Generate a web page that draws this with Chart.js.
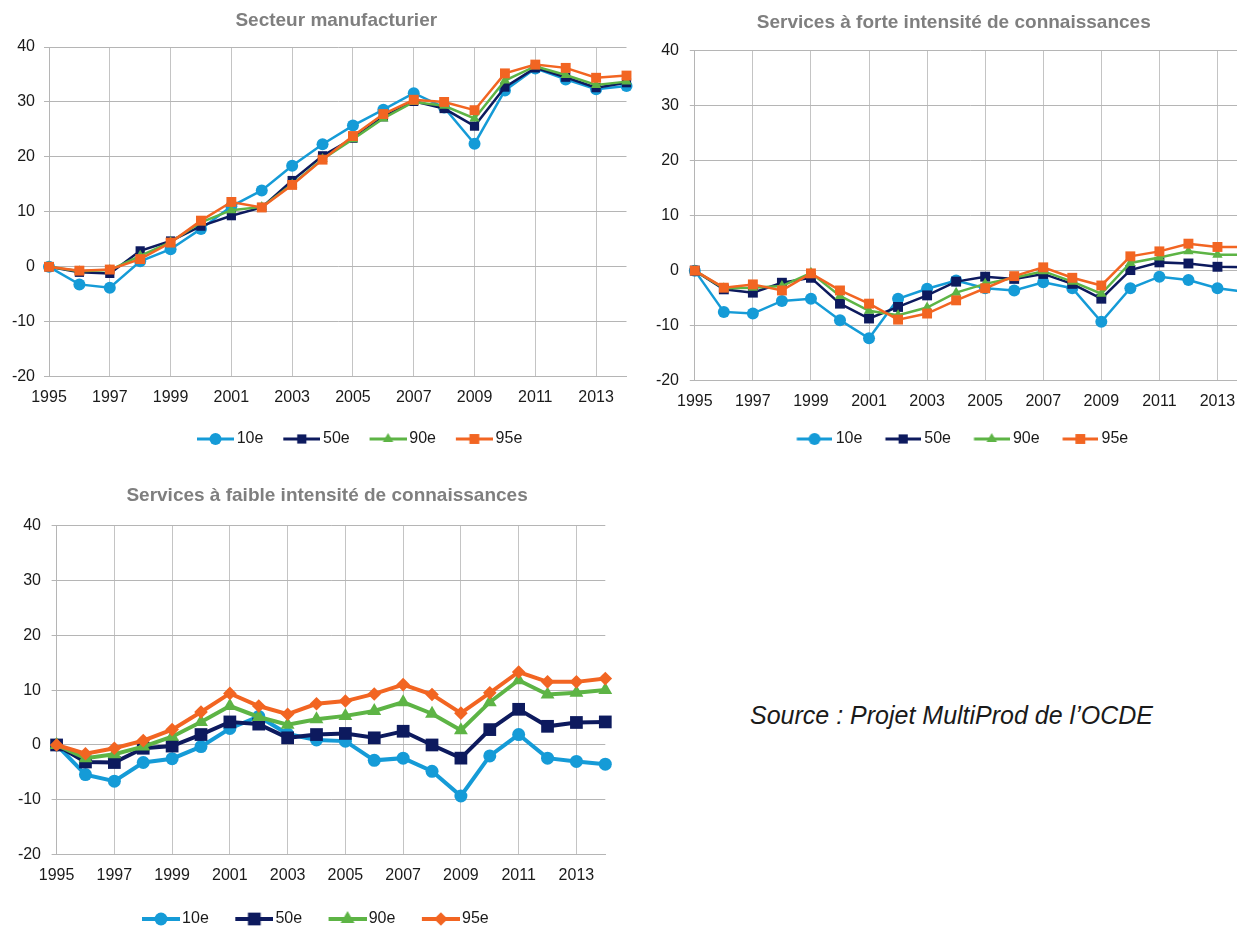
<!DOCTYPE html>
<html><head><meta charset="utf-8">
<script src="https://cdn.jsdelivr.net/npm/chart.js@4.4.1/dist/chart.umd.min.js"></script>
<style>
html,body{margin:0;padding:0;background:#fff;overflow:hidden;}
#wrap{position:relative;width:1237px;height:926px;overflow:hidden;background:#fff;}
canvas{position:absolute;}
#c1{left:0;top:0;}
#c2{left:645px;top:0;}
#c3{left:0;top:470px;}
#src{position:absolute;left:750px;top:700px;font:italic 25px "Liberation Sans",Arial,sans-serif;line-height:30px;color:#1a1a1a;white-space:nowrap;}
</style></head><body>
<div id="wrap">
<canvas id="c1" width="640" height="457"></canvas>
<canvas id="c2" width="620" height="457"></canvas>
<canvas id="c3" width="640" height="467"></canvas>
<div id="src">Source : Projet MultiProd de l’OCDE</div>
</div>
<script>
// ---- Data ----
const years = ['1995','1996','1997','1998','1999','2000','2001','2002','2003','2004','2005','2006','2007','2008','2009','2010','2011','2012','2013','2014'];
const seriesNames = ['10e','50e','90e','95e'];
const yTicks = [-20, -10, 0, 10, 20, 30, 40];

const titleManuf = 'Secteur manufacturier';
const manuf10 = [0, -3.2, -3.8, 1.0, 3.2, 6.9, 11.0, 13.9, 18.4, 22.3, 25.7, 28.6, 31.6, 29.0, 22.4, 32.1, 36.1, 34.1, 32.3, 32.9];
const manuf50 = [0, -1.0, -1.2, 2.9, 4.7, 7.4, 9.3, 10.8, 15.7, 20.2, 23.4, 27.3, 30.1, 28.8, 25.6, 32.7, 36.2, 34.5, 32.6, 33.5];
const manuf90 = [0, -0.8, -0.6, 2.0, 4.5, 8.1, 10.3, 10.9, 15.0, 19.6, 23.2, 27.0, 30.0, 29.3, 27.0, 33.9, 36.5, 34.9, 33.1, 33.7];
const manuf95 = [0, -0.7, -0.5, 1.4, 4.4, 8.4, 11.8, 10.8, 14.9, 19.5, 23.8, 27.8, 30.4, 30.0, 28.5, 35.2, 36.8, 36.2, 34.4, 34.8];

const titleForte = 'Services à forte intensité de connaissances';
const forte10 = [0, -7.5, -7.8, -5.5, -5.1, -9.0, -12.3, -5.1, -3.3, -1.8, -3.2, -3.6, -2.1, -3.2, -9.3, -3.2, -1.1, -1.7, -3.2, -3.9];
const forte50 = [0, -3.4, -4.0, -2.2, -1.3, -6.0, -8.7, -6.6, -4.5, -2.0, -1.1, -1.5, -0.6, -2.4, -5.1, 0.1, 1.5, 1.3, 0.7, 0.6];
const forte90 = [0, -3.2, -3.1, -2.8, -0.4, -4.6, -7.3, -8.1, -6.7, -4.0, -2.4, -1.3, -0.1, -2.0, -4.2, 1.4, 2.4, 3.5, 2.9, 2.9];
const forte95 = [0, -3.1, -2.5, -3.6, -0.5, -3.6, -6.0, -8.9, -7.8, -5.4, -3.2, -1.0, 0.6, -1.3, -2.7, 2.6, 3.5, 4.9, 4.3, 4.3];

const titleFaible = 'Services à faible intensité de connaissances';
const faible10 = [0, -5.4, -6.6, -3.2, -2.5, -0.3, 3.0, 5.2, 2.0, 0.9, 0.7, -2.8, -2.4, -4.8, -9.3, -2.0, 1.9, -2.4, -3.0, -3.5];
const faible50 = [0, -3.1, -3.2, -0.6, -0.2, 1.9, 4.2, 3.8, 1.3, 1.9, 2.1, 1.3, 2.5, 0.0, -2.4, 2.8, 6.5, 3.4, 4.1, 4.2];
const faible90 = [0, -2.4, -1.7, -0.3, 1.5, 4.2, 7.1, 5.1, 3.7, 4.7, 5.3, 6.2, 7.8, 5.7, 2.7, 7.8, 11.8, 9.2, 9.5, 10.0];
const faible95 = [0, -1.6, -0.6, 0.8, 2.8, 6.0, 9.4, 7.1, 5.6, 7.5, 8.0, 9.3, 11.0, 9.2, 5.8, 9.5, 13.3, 11.5, 11.5, 12.1];

// ---- Styles ----
const COLORS = ['#159bd7', '#0d1a5e', '#5db445', '#f26522'];
const FAMILY = '"Liberation Sans", Arial, Helvetica, sans-serif';
const TEXT = '#1a1a1a';
const GRID_Y = '#b5b5b5';
const GRID_X = '#c4c4c4';
Chart.defaults.font.family = FAMILY;

function drawMarker(g, style, x, y, r) {
  g.beginPath();
  if (style === 'circle') {
    g.arc(x, y, r, 0, Math.PI * 2);
  } else if (style === 'rect') {
    const s = Math.SQRT1_2 * r;
    g.rect(x - s, y - s, 2 * s, 2 * s);
  } else if (style === 'triangle') {
    g.moveTo(x, y - r);
    g.lineTo(x + Math.sin(2 * Math.PI / 3) * r, y - Math.cos(2 * Math.PI / 3) * r);
    g.lineTo(x + Math.sin(4 * Math.PI / 3) * r, y - Math.cos(4 * Math.PI / 3) * r);
    g.closePath();
  } else if (style === 'rectRot') {
    g.moveTo(x - r, y); g.lineTo(x, y - r); g.lineTo(x + r, y); g.lineTo(x, y + r);
    g.closePath();
  }
  g.fill();
}

// legend icon: transparent left part, then a line segment with marker, ending `gap` px before the text
function legendIcon(color, style, r, lineW, lineLen, imgW) {
  const c = document.createElement('canvas');
  const h = 20;
  c.width = Math.round(imgW); c.height = h;
  const g = c.getContext('2d');
  const x0 = c.width - lineLen;
  g.strokeStyle = color; g.fillStyle = color; g.lineWidth = lineW;
  g.beginPath(); g.moveTo(x0, h / 2); g.lineTo(c.width, h / 2); g.stroke();
  drawMarker(g, style, x0 + lineLen / 2, h / 2, r);
  return c;
}

const shiftPlugin = {
  id: 'shift',
  afterLayout(chart, args, opts) {
    if (chart.titleBlock && opts.title) { chart.titleBlock.left += opts.title; chart.titleBlock.right += opts.title; }
    if (chart.legend && opts.legend) { chart.legend.left += opts.legend; chart.legend.right += opts.legend; }
  }
};

function makeChart(id, c) {
  const imgW = c.boxW + 2 * (8 - c.gap);
  const icons = c.series.map((s, i) => legendIcon(COLORS[i], c.styles[i], c.legendR[i], c.legendLineW, c.lineLen, imgW));
  return new Chart(document.getElementById(id), {
    type: 'line',
    data: {
      labels: years,
      datasets: c.series.map((s, i) => ({
        label: seriesNames[i],
        data: s,
        borderColor: COLORS[i],
        backgroundColor: COLORS[i],
        borderWidth: c.lineW,
        pointStyle: c.styles[i],
        pointRadius: c.radii[i],
        pointHoverRadius: c.radii[i],
        pointBorderWidth: 0,
        pointBackgroundColor: COLORS[i],
        pointBorderColor: COLORS[i],
        tension: 0,
        order: 3 - i,
        clip: false
      }))
    },
    options: {
      responsive: false,
      animation: false,
      devicePixelRatio: 1,
      layout: { padding: { left: 0, right: c.padRight, top: 0, bottom: 0 } },
      plugins: {
        title: {
          display: true, text: c.title, color: '#7f7f7f',
          font: { family: FAMILY, size: 19, weight: 'bold' },
          padding: { top: c.titlePad[0], bottom: c.titlePad[1] }
        },
        legend: {
          display: true, position: 'bottom',
          labels: {
            usePointStyle: true, pointStyleWidth: c.boxW, boxHeight: 16,
            padding: c.legendPad, color: TEXT, font: { family: FAMILY, size: 16 },
            generateLabels: (chart) => chart.data.datasets.map((ds, i) => ({
              text: ds.label, pointStyle: icons[i], fillStyle: COLORS[i], strokeStyle: COLORS[i],
              lineWidth: 0, hidden: false, datasetIndex: i, fontColor: TEXT
            }))
          }
        },
        tooltip: { enabled: false },
        shift: { title: c.shiftTitle, legend: c.shiftLegend }
      },
      scales: {
        x: {
          type: 'category', offset: false,
          grid: { color: GRID_X, lineWidth: 1, drawTicks: false },
          border: { color: GRID_Y, width: 1 },
          ticks: {
            autoSkip: false, maxRotation: 0, minRotation: 0, padding: c.xPad, color: TEXT,
            font: { family: FAMILY, size: 16 },
            callback: function (v, i) { return i % 2 === 0 ? years[i] : null; }
          }
        },
        y: {
          min: yTicks[0], max: yTicks[yTicks.length - 1],
          afterBuildTicks: (axis) => { axis.ticks = yTicks.map(v => ({ value: v })); },
          grid: { color: GRID_Y, lineWidth: 1, tickLength: 5 },
          border: { color: GRID_Y, width: 1 },
          ticks: { padding: c.yPad, color: TEXT, font: { family: FAMILY, size: 16 } },
          afterFit: (s) => { s.width = c.yWidth; }
        }
      }
    },
    plugins: [shiftPlugin]
  });
}

makeChart('c1', {
  title: titleManuf, series: [manuf10, manuf50, manuf90, manuf95],
  styles: ['circle', 'rect', 'triangle', 'rect'], radii: [6, 6.5, 6, 7], lineW: 2.5,
  legendR: [6, 6.5, 6, 7], legendLineW: 3, lineLen: 37, gap: 3, boxW: 38.5, legendPad: 13.1,
  titlePad: [9.3, 14.9], xPad: 11, yPad: 9, yWidth: 49, padRight: 13.5,
  shiftTitle: 23, shiftLegend: 43
});

makeChart('c2', {
  title: titleForte, series: [forte10, forte50, forte90, forte95],
  styles: ['circle', 'rect', 'triangle', 'rect'], radii: [6, 7, 6, 7], lineW: 2.5,
  legendR: [6, 6.5, 6, 7], legendLineW: 3, lineLen: 35.5, gap: 3.2, boxW: 44.8, legendPad: 9.1,
  titlePad: [11.3, 16.4], xPad: 11, yPad: 10.8, yWidth: 49.8, padRight: 18.5,
  shiftTitle: 8, shiftLegend: 9.8
});

makeChart('c3', {
  title: titleFaible, series: [faible10, faible50, faible90, faible95],
  styles: ['circle', 'rect', 'triangle', 'rectRot'], radii: [6.5, 9, 8, 6.8], lineW: 4,
  legendR: [6.5, 9, 8, 6.8], legendLineW: 4, lineLen: 38, gap: 2.4, boxW: 44.3, legendPad: 14.3,
  titlePad: [14.6, 18.1], xPad: 11.4, yPad: 10.6, yWidth: 56.6, padRight: 34.7,
  shiftTitle: 24.4, shiftLegend: 6.6
});
</script>
</body></html>
